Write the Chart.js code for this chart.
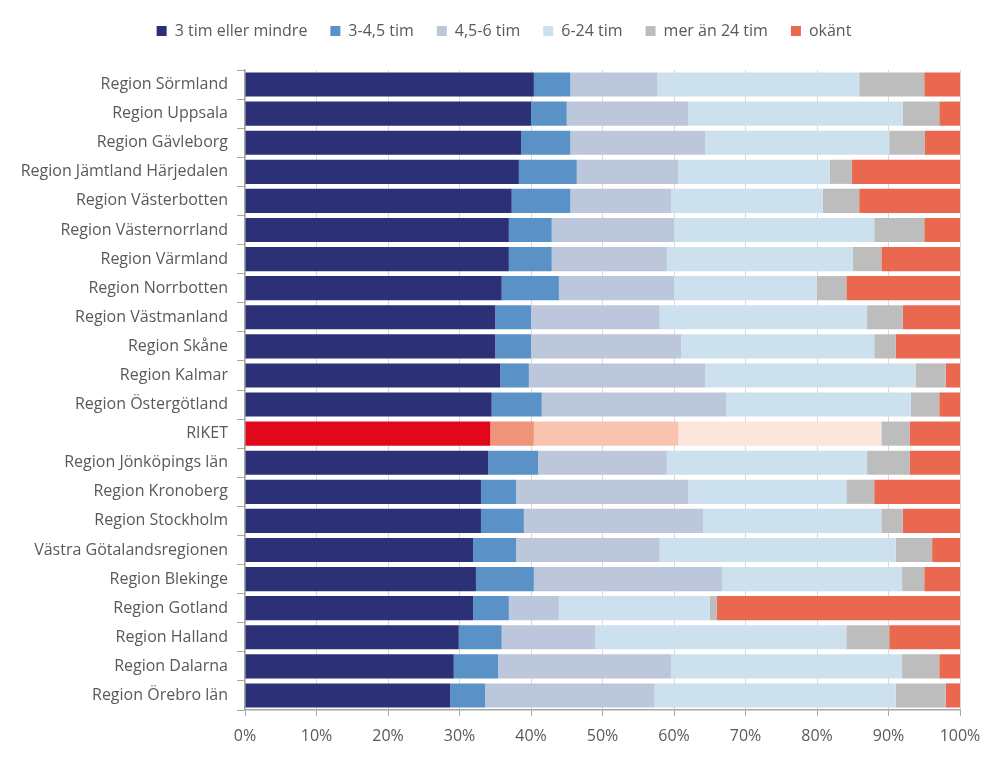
<!DOCTYPE html>
<html>
<head>
<meta charset="utf-8">
<script src="https://cdn.jsdelivr.net/npm/chart.js@4"></script>
<style>
  html, body { margin: 0; padding: 0; background: #ffffff; }
  #wrap { width: 1004px; height: 759px; position: relative; }
</style>
</head>
<body>
<div id="wrap"><canvas id="c"></canvas></div>
<script>
const categories = [
  "Region Sörmland", "Region Uppsala", "Region Gävleborg", "Region Jämtland Härjedalen",
  "Region Västerbotten", "Region Västernorrland", "Region Värmland", "Region Norrbotten",
  "Region Västmanland", "Region Skåne", "Region Kalmar", "Region Östergötland", "RIKET",
  "Region Jönköpings län", "Region Kronoberg", "Region Stockholm", "Västra Götalandsregionen",
  "Region Blekinge", "Region Gotland", "Region Halland", "Region Dalarna", "Region Örebro län"
];
const seriesNames = ["3 tim eller mindre", "3-4,5 tim", "4,5-6 tim", "6-24 tim", "mer än 24 tim", "okänt"];
const tim3 =   [40.4, 40.0, 38.6, 38.3, 37.3, 36.9, 36.9, 35.9, 35.0, 35.0, 35.7, 34.5, 34.3, 34.0, 33.0, 33.0, 31.9, 32.3, 31.9, 29.9, 29.2, 28.7];
const tim3_45 = [5.1, 5.0, 6.9, 8.1, 8.2, 6.0, 6.0, 8.0, 5.0, 5.0, 4.0, 7.0, 6.1, 7.0, 4.9, 6.0, 6.0, 8.1, 5.0, 6.0, 6.2, 4.9];
const tim45_6 = [12.2, 17.0, 18.9, 14.2, 14.1, 17.1, 16.1, 16.1, 18.0, 21.0, 24.7, 25.8, 20.2, 18.0, 24.1, 25.1, 20.1, 26.3, 7.0, 13.1, 24.2, 23.7];
const tim6_24 = [28.2, 30.0, 25.7, 21.2, 21.2, 28.0, 26.0, 20.0, 29.0, 27.0, 29.4, 25.8, 28.4, 28.0, 22.1, 24.9, 33.0, 25.2, 21.1, 35.1, 32.3, 33.7];
const over24 =  [9.1, 5.1, 5.0, 3.1, 5.1, 7.0, 4.0, 4.1, 5.0, 3.0, 4.2, 4.0, 4.0, 6.0, 3.9, 3.0, 5.1, 3.1, 1.0, 6.0, 5.2, 7.0];
const okant =   [5.0, 2.9, 4.9, 15.1, 14.1, 5.0, 11.0, 15.9, 8.0, 9.0, 2.0, 2.9, 7.0, 7.0, 12.0, 8.0, 3.9, 5.0, 34.0, 9.9, 2.9, 2.0];
const xTicks = [0, 10, 20, 30, 40, 50, 60, 70, 80, 90, 100];

const seriesData = [tim3, tim3_45, tim45_6, tim6_24, over24, okant];
const baseColors = ["#2B3077", "#5A92C7", "#BCC7DB", "#CDE0EE", "#BDBDBD", "#E9684F"];
const riketColors = ["#E2081C", "#F0947A", "#F8C4B0", "#FCE6DC", "#BDBDBD", "#E9684F"];
const highlight = "RIKET";

const FONT = "'Open Sans', sans-serif";
const TXT = "#595959";

const datasets = seriesNames.map((name, i) => ({
  label: name,
  data: seriesData[i],
  backgroundColor: categories.map(c => c === highlight ? riketColors[i] : baseColors[i]),
  borderWidth: 0,
  barPercentage: 0.83,
  categoryPercentage: 1.0
}));

const legendMargin = {
  id: 'legendMargin',
  beforeInit(chart) {
    const orig = chart.legend.fit;
    chart.legend.fit = function () {
      orig.bind(chart.legend)();
      this.height = 70;
    };
  },
  afterLayout(chart) {
    chart.legend.left += 24;
    chart.legend.right += 24;
  }
};

new Chart(document.getElementById('c'), {
  type: 'bar',
  data: { labels: categories, datasets },
  plugins: [legendMargin],
  options: {
    indexAxis: 'y',
    responsive: true,
    maintainAspectRatio: false,
    animation: false,
    devicePixelRatio: 1,
    layout: { padding: { left: 0, right: 44, top: 0, bottom: 0 } },
    plugins: {
      legend: {
        position: 'top',
        labels: {
          boxWidth: 10,
          boxHeight: 10,
          padding: 23,
          color: TXT,
          font: { family: FONT, size: 16 }
        }
      },
      tooltip: { enabled: false }
    },
    scales: {
      x: {
        stacked: true,
        min: 0,
        max: 100,
        afterBuildTicks(scale) { scale.ticks = xTicks.map(v => ({ value: v })); },
        afterFit(scale) { scale.height = 49; },
        grid: { color: "#D9D9D9", tickColor: "#A6A6A6", tickLength: 6, lineWidth: 1 },
        border: { color: "#A6A6A6", width: 1.5 },
        ticks: {
          color: TXT,
          padding: 11,
          font: { family: FONT, size: 16 },
          callback: v => v + '%'
        }
      },
      y: {
        stacked: true,
        afterFit(scale) { scale.width = 245; },
        grid: { drawOnChartArea: false, offset: true, tickLength: 8, tickColor: "#A6A6A6" },
        border: { color: "#A6A6A6", width: 1.5 },
        ticks: {
          color: TXT,
          padding: 9,
          autoSkip: false,
          font: { family: FONT, size: 16 }
        }
      }
    }
  }
});
</script>
</body>
</html>
